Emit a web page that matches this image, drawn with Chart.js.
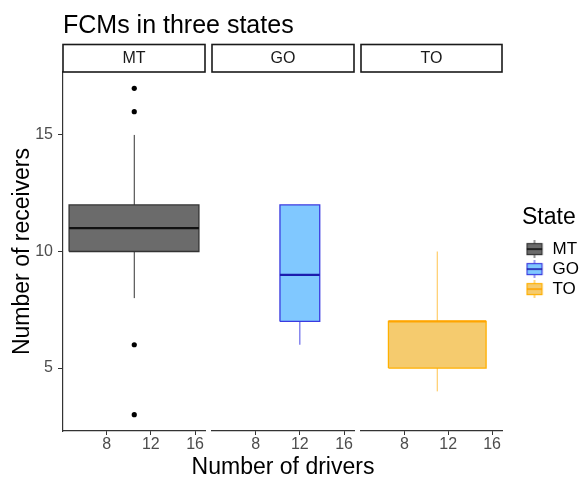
<!DOCTYPE html>
<html>
<head>
<meta charset="utf-8">
<script src="https://cdn.jsdelivr.net/npm/chart.js@4.4.1/dist/chart.umd.min.js"></script>
<style>
  html, body { margin: 0; padding: 0; background: #ffffff; }
  canvas { display: block; }
</style>
</head>
<body>
<canvas id="chart" width="580" height="478"></canvas>
<script>
// Box plot summaries, one entry per state facet
const states = ['MT', 'GO', 'TO'];
const boxLeft = [4.6, 10.2, 6.55];      // number of drivers at the box's left edge
const boxRight = [16.35, 13.8, 15.45];  // number of drivers at the box's right edge
const boxCenter = [10.5, 12, 11];       // whisker position
const lowerQuartile = [10, 7, 5];
const medians = [11, 9, 7];
const upperQuartile = [12, 12, 7];
const whiskerLow = [8, 6, 4];
const whiskerHigh = [15, 12, 10];
const outliers = [[17, 16, 6, 3], [], []];
const xTicks = [8, 12, 16];
const yTicks = [5, 10, 15];

const chartTitle = 'FCMs in three states';
const xTitle = 'Number of drivers';
const yTitle = 'Number of receivers';
const legendTitle = 'State';

// Styling
const FONT = '"Liberation Sans", Arial, Helvetica, sans-serif';
const fillColors = ['#6b6b6b', '#80c8ff', '#f5cb6e'];
const lineColors = ['#333333', '#3a3ae0', '#ffb000'];
const medianColors = ['#111111', '#1c1cae', '#ffa500'];
const whiskerColors = ['#333333', '#4a4ae6', '#ffc34d'];
const xRange = { min: 4.05, max: 16.9 };
const yRange = { min: 2.3, max: 17.7 };
const facetIds = ['x1', 'x2', 'x3'];
const panelWeights = [142, 142, 141];

Chart.defaults.font.family = FONT;

// Datasets: box (closed outline filled as a shape), median, whisker, outliers
const datasets = [];
states.forEach((state, i) => {
  const xid = facetIds[i];
  const L = boxLeft[i], R = boxRight[i];
  datasets.push({
    type: 'line', label: state + ' box', xAxisID: xid, yAxisID: 'y',
    data: [
      { x: L, y: lowerQuartile[i] }, { x: R, y: lowerQuartile[i] },
      { x: R, y: upperQuartile[i] }, { x: L, y: upperQuartile[i] },
      { x: L, y: lowerQuartile[i] }
    ],
    fill: 'shape', backgroundColor: fillColors[i], borderColor: lineColors[i],
    borderWidth: 1.3, pointRadius: 0, tension: 0, order: 2
  });
  datasets.push({
    type: 'line', label: state + ' median', xAxisID: xid, yAxisID: 'y',
    data: [{ x: L, y: medians[i] }, { x: R, y: medians[i] }],
    fill: false, borderColor: medianColors[i], borderWidth: 2.2,
    pointRadius: 0, order: 1
  });
  datasets.push({
    type: 'line', label: state + ' whisker', xAxisID: xid, yAxisID: 'y',
    data: [{ x: boxCenter[i], y: whiskerLow[i] }, { x: boxCenter[i], y: whiskerHigh[i] }],
    fill: false, borderColor: whiskerColors[i], borderWidth: 1,
    pointRadius: 0, order: 3
  });
  if (outliers[i].length) {
    datasets.push({
      type: 'scatter', label: state + ' outliers', xAxisID: xid, yAxisID: 'y',
      data: outliers[i].map(v => ({ x: boxCenter[i], y: v })),
      backgroundColor: '#000000', borderWidth: 0, pointRadius: 2.6, order: 0
    });
  }
});

// Legend key glyphs: small box plot icons
function makeKey(i) {
  const c = document.createElement('canvas');
  c.width = 18; c.height = 18;
  const g = c.getContext('2d');
  g.strokeStyle = lineColors[i];
  g.lineWidth = 1;
  g.beginPath();
  g.moveTo(9, 0); g.lineTo(9, 3.5);
  g.moveTo(9, 14.5); g.lineTo(9, 18);
  g.stroke();
  g.fillStyle = fillColors[i];
  g.fillRect(1, 3, 16, 12);
  g.lineWidth = 1.2;
  g.strokeRect(1.5, 3.5, 15, 11);
  g.strokeStyle = medianColors[i];
  g.lineWidth = 1.6;
  g.beginPath(); g.moveTo(1, 9); g.lineTo(17, 9); g.stroke();
  return c;
}
const keyIcons = states.map((s, i) => makeKey(i));

const setTicks = list => scale => { scale.ticks = list.map(v => ({ value: v })); };

const scales = {
  y: {
    type: 'linear', position: 'left', min: yRange.min, max: yRange.max,
    afterBuildTicks: setTicks(yTicks),
    afterFit: s => { s.width = 63; },
    ticks: { font: { size: 16 }, color: '#4d4d4d', padding: 5 },
    grid: { drawOnChartArea: false, tickLength: 5, color: '#333333', lineWidth: 1 },
    border: { color: '#333333', width: 1.2 },
    title: {
      display: true, text: yTitle, color: '#000000',
      font: { size: 23, lineHeight: 1 }, padding: { top: 11, bottom: 0 }
    }
  }
};
facetIds.forEach((id, i) => {
  scales[id] = {
    type: 'linear', axis: 'x', position: 'bottom', stack: 'facets',
    stackWeight: panelWeights[i], weight: 2 * i,
    min: xRange.min, max: xRange.max,
    afterBuildTicks: setTicks(xTicks),
    afterFit: s => { s.height = 47; },
    ticks: { font: { size: 16 }, color: '#4d4d4d', padding: 0, maxRotation: 0, autoSkip: false },
    grid: { drawOnChartArea: false, tickLength: 4, color: '#333333', lineWidth: 1 },
    border: { color: '#333333', width: 1.2 },
    title: { display: false }
  };
});
// Empty spacer axes between facet panels and before the legend
[['gap1', 7, 1], ['gap2', 7, 3], ['gap3', 20, 5]].forEach(([id, w, order]) => {
  scales[id] = {
    type: 'linear', axis: 'x', position: 'bottom', stack: 'facets',
    stackWeight: w, weight: order, min: 0, max: 1,
    afterFit: s => { s.height = 47; },
    ticks: { display: false }, grid: { display: false }, border: { display: false },
    title: { display: false }
  };
});

// Plot title, shared x-axis title and facet strips
const facetDecor = {
  id: 'facetDecor',
  afterDraw(chart) {
    const ctx = chart.ctx;
    const area = chart.chartArea;
    ctx.save();
    ctx.fillStyle = '#000000';
    ctx.font = '25px ' + FONT;
    ctx.textAlign = 'left';
    ctx.textBaseline = 'alphabetic';
    ctx.fillText(chartTitle, area.left, 33);

    // x-axis title shared by all facets, centred under the middle panel
    const mid = chart.scales[facetIds[1]];
    ctx.font = '23px ' + FONT;
    ctx.textAlign = 'center';
    ctx.fillText(xTitle, (mid.left + mid.right) / 2, 474);

    const stripTop = area.top - 27.5;
    facetIds.forEach((id, i) => {
      const s = chart.scales[id];
      ctx.fillStyle = '#ffffff';
      ctx.fillRect(s.left, stripTop, s.right - s.left, area.top - stripTop);
      ctx.strokeStyle = '#1a1a1a';
      ctx.lineWidth = 1.6;
      ctx.strokeRect(s.left, stripTop, s.right - s.left, area.top - stripTop);
      ctx.fillStyle = '#1a1a1a';
      ctx.font = '16px ' + FONT;
      ctx.textAlign = 'center';
      ctx.textBaseline = 'middle';
      ctx.fillText(states[i], (s.left + s.right) / 2, (stripTop + area.top) / 2 + 0.5);
      ctx.textBaseline = 'alphabetic';
    });
    ctx.restore();
  }
};

new Chart(document.getElementById('chart'), {
  type: 'line',
  data: { datasets },
  options: {
    responsive: false,
    devicePixelRatio: 1,
    animation: false,
    layout: { padding: { top: 72, left: 0, right: 0, bottom: 0 } },
    scales,
    plugins: {
      tooltip: { enabled: false },
      legend: {
        position: 'right', align: 'start', maxWidth: 58,
        title: {
          display: true, text: legendTitle, position: 'start', color: '#000000',
          font: { size: 23 }, padding: { top: 134, bottom: 4 }
        },
        labels: {
          usePointStyle: true, pointStyleWidth: 19, padding: 3,
          color: '#1a1a1a', font: { size: 17 },
          generateLabels: () => states.map((s, i) => ({
            text: s, pointStyle: keyIcons[i], fillStyle: fillColors[i],
            strokeStyle: lineColors[i], lineWidth: 0, hidden: false, datasetIndex: i
          }))
        }
      }
    }
  },
  plugins: [facetDecor]
});
</script>
</body>
</html>
